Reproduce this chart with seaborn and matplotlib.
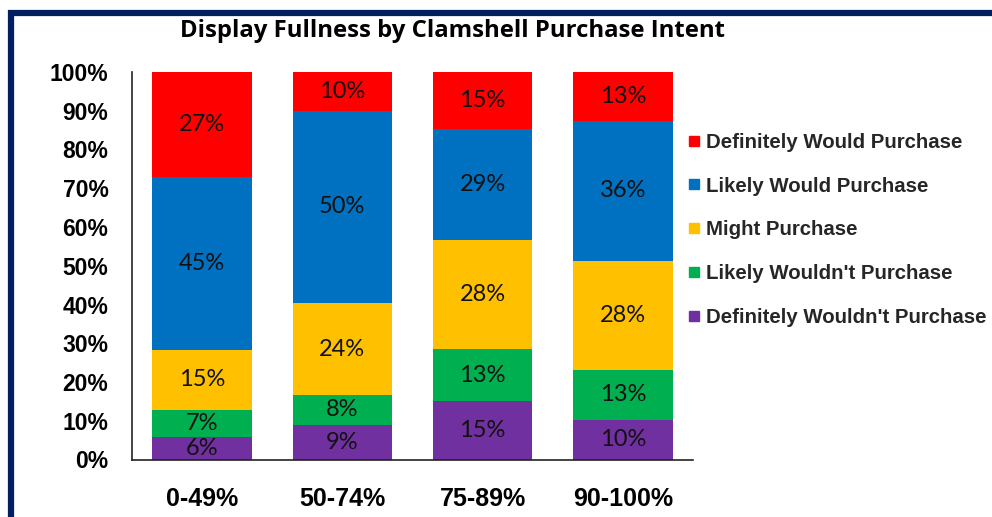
import matplotlib
matplotlib.use("Agg")
import matplotlib.pyplot as plt
from matplotlib.lines import Line2D
import numpy as np
import pandas as pd
import seaborn as sns

categories = ["0-49%", "50-74%", "75-89%", "90-100%"]
series_names = ["Definitely Wouldn't Purchase", "Likely Wouldn't Purchase",
                "Might Purchase", "Likely Would Purchase", "Definitely Would Purchase"]
def_wouldnt = [5.8, 9.0, 15.2, 10.3]
likely_wouldnt = [7.1, 7.6, 13.2, 12.8]
might = [15.4, 23.8, 28.2, 28.2]
likely_would = [44.7, 49.6, 28.7, 36.0]
def_would = [27.0, 10.0, 14.7, 12.7]
series_values = [def_wouldnt, likely_wouldnt, might, likely_would, def_would]
colors = ["#7030A0", "#00B050", "#FFC000", "#0070C0", "#FF0000"]
yticks = [0, 10, 20, 30, 40, 50, 60, 70, 80, 90, 100]

sns.set_style("white")
plt.rcParams["font.family"] = ["Liberation Sans", "DejaVu Sans"]

fig = plt.figure(figsize=(9.92, 5.17), dpi=100)
ax = fig.add_axes([132/992, 1-459.5/517, (693-132)/992, (459.5-72)/517])

bottom = np.zeros(len(categories))
for name, vals, col in zip(series_names, series_values, colors):
    df = pd.DataFrame({"cat": categories, "val": vals})
    sns.barplot(data=df, x="cat", y="val", order=categories, color=col,
                width=0.71, bottom=bottom, ax=ax, saturation=1, errorbar=None,
                edgecolor="none", linewidth=0)
    bottom = bottom + np.array(vals)

for cont, vals in zip(ax.containers, series_values):
    ax.bar_label(cont, labels=[f"{v:.0f}%" for v in vals], label_type="center",
                 fontsize=17, family=["Lato", "DejaVu Sans"], color="#111111")

ax.set_xlim(-0.5, len(categories) - 0.5)
ax.set_ylim(0, 100)
ax.set_yticks(yticks)
ax.set_yticklabels([f"{t}%" for t in yticks])
ax.set_xlabel("")
ax.set_ylabel("")
ax.set_xticks(range(len(categories)))
ax.set_xticklabels(categories)
ax.set_xticks(np.arange(-0.5, len(categories), 1.0), minor=True)
ax.tick_params(axis="x", which="major", length=0, pad=20, labelsize=18)
ax.tick_params(axis="x", which="minor", length=7, width=1.2, direction="out", color="#222222")
ax.tick_params(axis="y", which="major", length=7, width=1.2, direction="out",
               color="#222222", pad=10, labelsize=16.5)
for lab in ax.get_xticklabels() + ax.get_yticklabels():
    lab.set_fontweight("bold")
    lab.set_color("#000000")
for s in ["top", "right"]:
    ax.spines[s].set_visible(False)
for s in ["left", "bottom"]:
    ax.spines[s].set_color("#222222")
    ax.spines[s].set_linewidth(1.2)

fig.text(452/992, 1-31/517, "Display Fullness by Clamshell Purchase Intent",
         ha="center", va="center", fontsize=17.2, fontweight="bold",
         family=["Open Sans", "DejaVu Sans"], color="#000000")

handles = [Line2D([0], [0], marker="s", linestyle="none", markersize=7,
                  markerfacecolor=c, markeredgecolor=c) for c in colors[::-1]]
fig.legend(handles, series_names[::-1], loc="center left",
           bbox_to_anchor=(688/992, 1-230/517), frameon=False,
           prop={"family": "Liberation Sans", "weight": "bold", "size": 14.7},
           handlelength=0.6, handletextpad=0.3, labelspacing=1.22,
           borderpad=0, borderaxespad=0)

navy = "#002060"
fig.add_artist(Line2D([8/992, 1], [1-13/517, 1-13/517], color=navy, linewidth=4.5,
                      transform=fig.transFigure, solid_capstyle="butt"))
fig.add_artist(Line2D([11/992, 11/992], [0, 1-10/517], color=navy, linewidth=4.5,
                      transform=fig.transFigure, solid_capstyle="butt"))

fig.savefig("out.png", dpi=100)
